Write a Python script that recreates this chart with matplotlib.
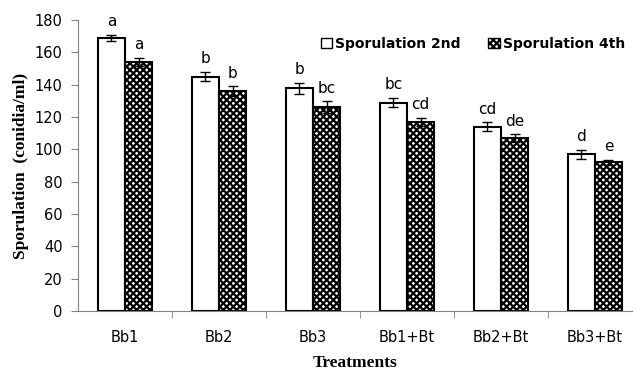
import numpy as np
import matplotlib
matplotlib.use("Agg")
import matplotlib.pyplot as plt
from matplotlib.patches import Patch

treatments = ["Bb1", "Bb2", "Bb3", "Bb1+Bt", "Bb2+Bt", "Bb3+Bt"]
spor_2nd = [169, 145, 138, 129, 114, 97]
spor_4th = [154, 136, 126, 117, 107, 92]
err_2nd = [1.9, 2.9, 3.4, 2.9, 2.9, 2.9]
err_4th = [2.6, 3.2, 3.7, 2.5, 2.5, 1.7]
let_2nd = ["a", "b", "b", "bc", "cd", "d"]
let_4th = ["a", "b", "bc", "cd", "de", "e"]

plt.rcParams['hatch.linewidth'] = 1.6

fig = plt.figure(figsize=(6.38, 3.71), dpi=100)
ax = fig.add_axes([0.1223, 0.1617, 0.869, 0.784])

x = np.arange(len(treatments))
w = 0.29
b1 = ax.bar(x - w / 2, spor_2nd, w, color="white", edgecolor="black", linewidth=1.5,
            yerr=err_2nd, capsize=3.5, error_kw=dict(ecolor="black", elinewidth=1, capthick=1))
b2 = ax.bar(x + w / 2, spor_4th, w, color="white", edgecolor="black", linewidth=1.5,
            hatch="xxxxx", yerr=err_4th, capsize=3.5,
            error_kw=dict(ecolor="black", elinewidth=1, capthick=1))

# significance letters above error bars
for i in range(len(x)):
    ax.annotate(let_2nd[i], (x[i] - w / 2, spor_2nd[i] + err_2nd[i]), xytext=(0, 4),
                textcoords="offset points", ha="center", va="bottom", fontsize=11)
    ax.annotate(let_4th[i], (x[i] + w / 2, spor_4th[i] + err_4th[i]), xytext=(0, 4),
                textcoords="offset points", ha="center", va="bottom", fontsize=11)

ax.set_xlim(-0.5, 5.4)
ax.set_ylim(0, 180)
ax.set_yticks(range(0, 181, 20))
ax.set_xticks(x)
ax.set_xticklabels(treatments)
ax.set_xticks(np.arange(0.5, 5, 1), minor=True)
ax.tick_params(axis="x", which="major", length=0, pad=14, labelsize=10.5)
ax.tick_params(axis="x", which="minor", length=5, color="#808080")
ax.tick_params(axis="y", length=5, color="#808080", pad=6, labelsize=10.5)

ax.spines["top"].set_visible(False)
ax.spines["right"].set_visible(False)
ax.spines["left"].set_color("#808080")
ax.spines["bottom"].set_color("#808080")

ax.set_ylabel("Sporulation  (conidia/ml)", family="Liberation Serif", fontweight="bold",
              fontsize=12.5, labelpad=4)
ax.set_xlabel("Treatments", family="Liberation Serif", fontweight="bold", fontsize=12.5,
              labelpad=7)

handles = [Patch(facecolor="white", edgecolor="black", label="Sporulation 2nd"),
           Patch(facecolor="white", edgecolor="black", hatch="xxxxx", label="Sporulation 4th")]
ax.legend(handles=handles, loc="upper left", bbox_to_anchor=(0.415, 0.985), ncol=2,
          frameon=False, handlelength=0.8, handleheight=0.8, handletextpad=0.25,
          columnspacing=2.0, prop=dict(weight="bold", size=10))

fig.savefig("out.png", dpi=100)
